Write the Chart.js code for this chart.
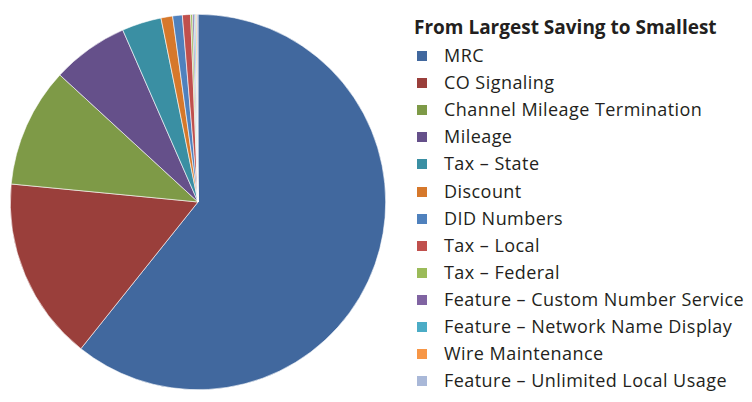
<!DOCTYPE html>
<html>
<head>
<meta charset="utf-8">
<script src="https://cdn.jsdelivr.net/npm/chart.js@4/dist/chart.umd.min.js"></script>
<style>
  html, body { margin: 0; padding: 0; background: #fff; }
  body { width: 752px; height: 402px; position: relative; overflow: hidden; font-family: "Open Sans", "Lato", sans-serif; color: #231f20; }
  #wrap { position: absolute; left: 0; top: 0; width: 396px; height: 402px; }
  #legendTitle { position: absolute; left: 414px; top: 15px; font-size: 19px; line-height: 24px; font-weight: bold; white-space: nowrap; }
  .item { position: absolute; left: 417px; height: 20px; white-space: nowrap; font-size: 18px; line-height: 20px; letter-spacing: 0.45px; }
  .item .box { position: absolute; left: 0; top: 5px; width: 10px; height: 10px; }
  .item .txt { position: absolute; left: 27px; top: -1px; }
</style>
</head>
<body>
<div id="wrap"><canvas id="c"></canvas></div>
<div id="legendTitle">From Largest Saving to Smallest</div>
<div id="legend"></div>
<script>
const categories = [
  "MRC",
  "CO Signaling",
  "Channel Mileage Termination",
  "Mileage",
  "Tax – State",
  "Discount",
  "DID Numbers",
  "Tax – Local",
  "Tax – Federal",
  "Feature – Custom Number Service",
  "Feature – Network Name Display",
  "Wire Maintenance",
  "Feature – Unlimited Local Usage"
];
const savings = [60.7, 15.8, 10.3, 6.6, 3.4, 1.0, 0.83, 0.7, 0.17, 0.14, 0.12, 0.1, 0.1];
const colors = [
  "#41689E", "#9A3F3B", "#7E9A47", "#65508A", "#3A8FA3", "#D6782B",
  "#4F81BD", "#C0504D", "#9BBB59", "#8064A2", "#4BACC6", "#F79646", "#A9B8D8"
];

const legend = document.getElementById('legend');
categories.forEach((name, i) => {
  const d = document.createElement('div');
  d.className = 'item';
  d.style.top = (46 + i * 27.1) + 'px';
  const b = document.createElement('div');
  b.className = 'box';
  b.style.background = colors[i];
  const t = document.createElement('div');
  t.className = 'txt';
  t.textContent = name;
  d.appendChild(b); d.appendChild(t);
  legend.appendChild(d);
});

new Chart(document.getElementById('c'), {
  type: 'pie',
  data: {
    labels: categories,
    datasets: [{
      data: savings,
      backgroundColor: colors,
      borderColor: '#ffffff',
      borderWidth: 0.6
    }]
  },
  options: {
    responsive: true,
    maintainAspectRatio: false,
    animation: false,
    layout: { padding: { left: 10, right: 10, top: 14, bottom: 12 } },
    plugins: { legend: { display: false }, tooltip: { enabled: false } }
  }
});
</script>
</body>
</html>
